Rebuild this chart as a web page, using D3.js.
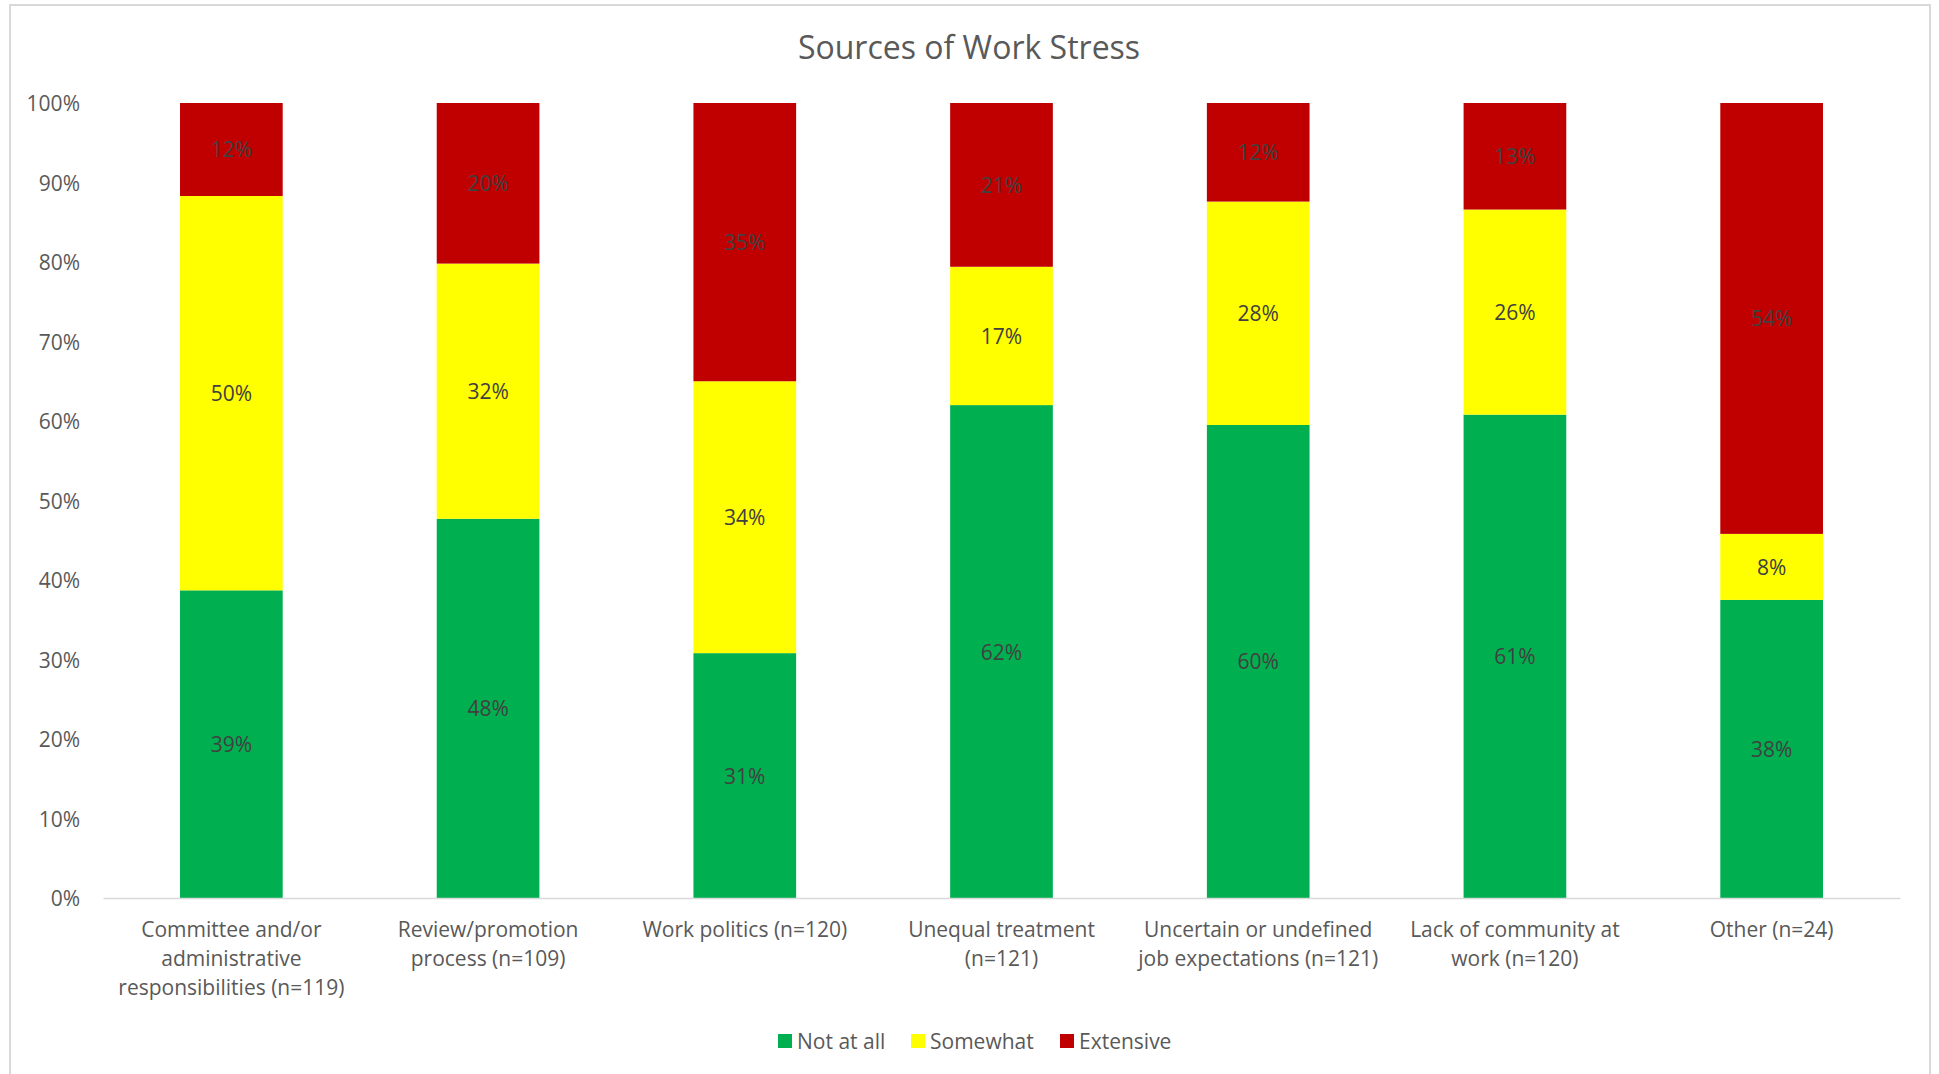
<!DOCTYPE html>
<html>
<head>
<meta charset="utf-8">
<script src="https://cdn.jsdelivr.net/npm/d3@7"></script>
<style>
  body { margin: 0; background: #fff; }
  svg { display: block; font-family: "Open Sans", sans-serif; }
</style>
</head>
<body>
<svg width="1939" height="1074"></svg>
<script>
  // Category labels (line breaks as in the original chart)
  const categories = [
    'Committee and/or\nadministrative\nresponsibilities (n=119)',
    'Review/promotion\nprocess (n=109)',
    'Work politics (n=120)',
    'Unequal treatment\n(n=121)',
    'Uncertain or undefined\njob expectations (n=121)',
    'Lack of community at\nwork (n=120)',
    'Other (n=24)'
  ];

  // Shares per category
  const notAtAll  = [0.387, 0.477, 0.308, 0.620, 0.595, 0.608, 0.375];
  const somewhat  = [0.496, 0.321, 0.342, 0.174, 0.281, 0.258, 0.083];
  const extensive = [0.117, 0.202, 0.350, 0.206, 0.124, 0.134, 0.542];

  const seriesNames = ['Not at all', 'Somewhat', 'Extensive'];
  const seriesColors = ['#00b050', '#ffff00', '#c00000'];
  const yTicks = [0, 0.1, 0.2, 0.3, 0.4, 0.5, 0.6, 0.7, 0.8, 0.9, 1];

  const rows = categories.map((c, i) => ({
    cat: c,
    'Not at all': notAtAll[i],
    'Somewhat': somewhat[i],
    'Extensive': extensive[i]
  }));

  const font = '"Open Sans", sans-serif';
  const svg = d3.select('svg');

  // outer chart border
  svg.append('rect')
    .attr('x', 10).attr('y', 5)
    .attr('width', 1920).attr('height', 1100)
    .attr('fill', 'none')
    .attr('stroke', '#d9d9d9')
    .attr('stroke-width', 2);

  // title
  svg.append('text')
    .attr('x', 969).attr('y', 59)
    .attr('text-anchor', 'middle')
    .attr('font-size', 32)
    .attr('fill', '#595959')
    .text('Sources of Work Stress');

  const x = d3.scaleBand()
    .domain(categories)
    .range([103, 1900])
    .paddingInner(0.6)
    .paddingOuter(0.3);

  const y = d3.scaleLinear()
    .domain([0, 1])
    .range([898, 103]);

  // y axis labels
  const yAxisG = svg.append('g')
    .attr('transform', 'translate(103,0)')
    .call(d3.axisLeft(y).tickValues(yTicks).tickFormat(d3.format('.0%')).tickSize(0).tickPadding(23))
    .attr('font-family', font)
    .attr('font-size', 21);
  yAxisG.select('.domain').remove();
  yAxisG.selectAll('text').attr('fill', '#595959').attr('dy', '0.38em');

  // stacked bars
  const stacked = d3.stack().keys(seriesNames)(rows);

  const seriesG = svg.append('g').selectAll('g')
    .data(stacked)
    .join('g')
    .attr('fill', (d, i) => seriesColors[i]);

  seriesG.selectAll('rect')
    .data(d => d)
    .join('rect')
    .attr('x', d => x(d.data.cat))
    .attr('width', x.bandwidth())
    .attr('y', d => y(d[1]))
    .attr('height', d => y(d[0]) - y(d[1]));

  // data labels
  seriesG.selectAll('text')
    .data(d => d)
    .join('text')
    .attr('x', d => x(d.data.cat) + x.bandwidth() / 2)
    .attr('y', d => (y(d[0]) + y(d[1])) / 2)
    .attr('dy', '0.38em')
    .attr('text-anchor', 'middle')
    .attr('font-size', 21)
    .attr('fill', '#404040')
    .text(d => d3.format('.0%')(d[1] - d[0]));

  // x axis
  const xAxisG = svg.append('g')
    .attr('transform', 'translate(0,898)')
    .call(d3.axisBottom(x).tickSize(0).tickFormat(''))
    .attr('font-family', font)
    .attr('font-size', 21);
  xAxisG.select('.domain')
    .attr('stroke', '#d9d9d9')
    .attr('stroke-width', 1.5);

  xAxisG.selectAll('.tick text').remove();
  xAxisG.selectAll('.tick')
    .append('text')
    .attr('text-anchor', 'middle')
    .attr('fill', '#595959')
    .selectAll('tspan')
    .data(d => d.split('\n'))
    .join('tspan')
    .attr('x', 0)
    .attr('y', (d, i) => 39 + i * 29)
    .text(d => d);

  // legend
  const legendX = [778, 911, 1060];
  const legendG = svg.append('g').selectAll('g')
    .data(seriesNames)
    .join('g')
    .attr('transform', (d, i) => `translate(${legendX[i]},1034)`);

  legendG.append('rect')
    .attr('width', 14).attr('height', 14)
    .attr('fill', (d, i) => seriesColors[i]);

  legendG.append('text')
    .attr('x', 19).attr('y', 7)
    .attr('dy', '0.38em')
    .attr('font-size', 21)
    .attr('fill', '#595959')
    .text(d => d);
</script>
</body>
</html>
